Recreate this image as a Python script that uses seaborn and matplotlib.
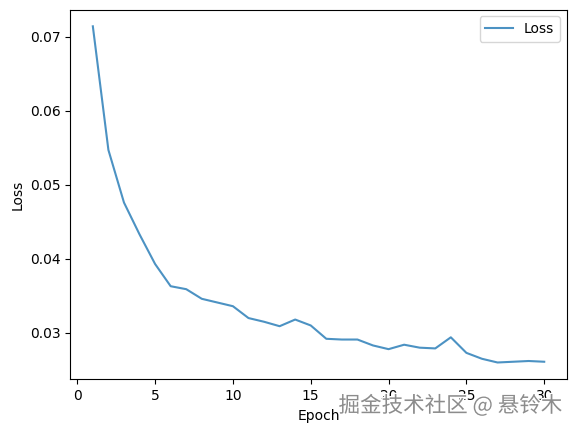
import matplotlib
matplotlib.use("Agg")
import matplotlib.pyplot as plt
import matplotlib.patheffects as pe
import seaborn as sns
import pandas as pd

epochs = list(range(1, 31))
loss = [0.0714, 0.0547, 0.0476, 0.0433, 0.0393, 0.0363, 0.0359, 0.0346, 0.0341, 0.0336,
        0.0320, 0.0315, 0.0309, 0.0318, 0.0310, 0.0292, 0.0291, 0.0291, 0.0283, 0.0278,
        0.0284, 0.0280, 0.0279, 0.0294, 0.0273, 0.0265, 0.0260, 0.0261, 0.0262, 0.0261]

df = pd.DataFrame({"Epoch": epochs, "Loss": loss})

fig, ax = plt.subplots(figsize=(5.76, 4.32), dpi=100)
sns.lineplot(data=df, x="Epoch", y="Loss", ax=ax, label="Loss", color="#1f77b4", alpha=0.8)
ax.legend(loc="upper right")
fig.subplots_adjust(left=0.122, right=0.984, top=0.978, bottom=0.122)

fig.text(0.976, 0.06, "掘金技术社区 @ 悬铃木", ha="right", va="center", fontsize=15.5,
         color="#8c8c8c", family=["Noto Sans CJK SC", "DejaVu Sans"],
         path_effects=[pe.withStroke(linewidth=2, foreground="white")])

fig.savefig("out.png", dpi=100)
